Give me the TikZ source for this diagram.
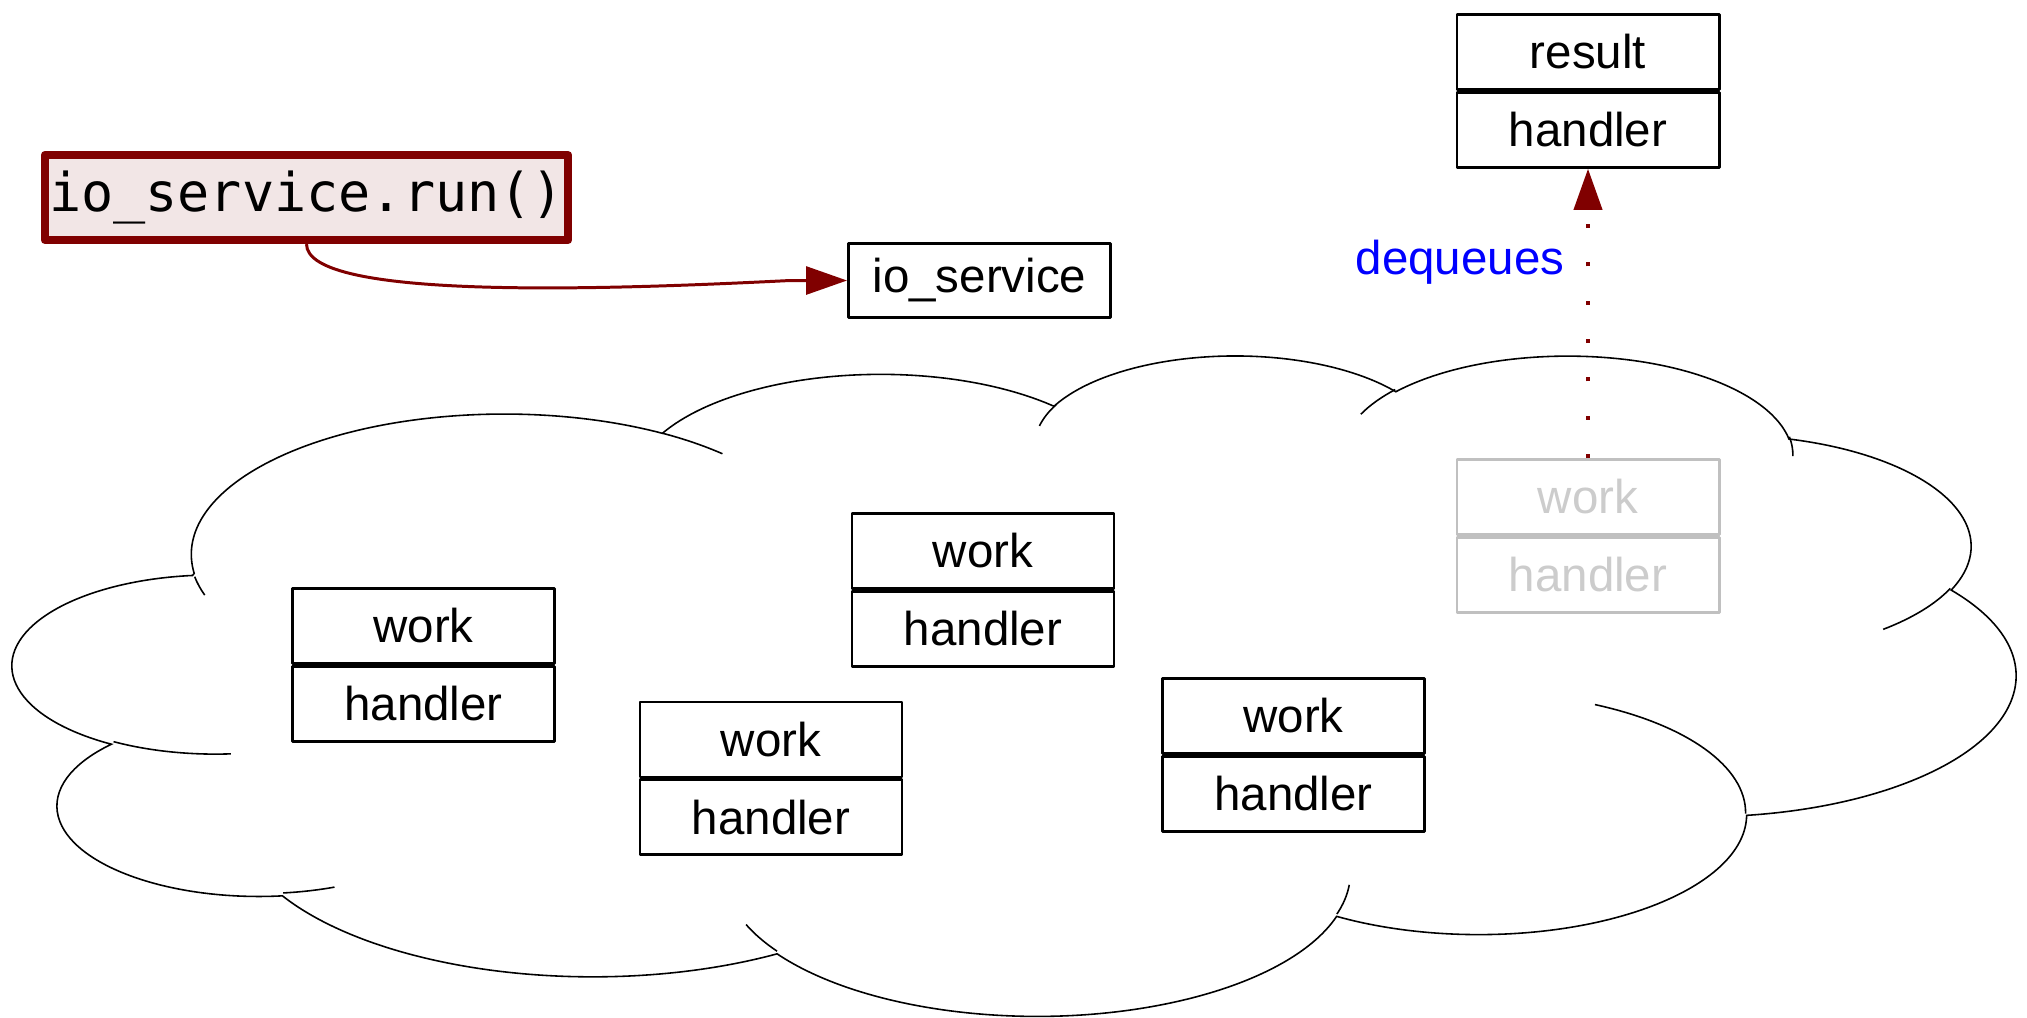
\documentclass[tikz,border=0pt]{standalone}
\usepackage{fontspec}
\setmainfont{Liberation Sans}
\setmonofont{DejaVu Sans Mono}
\usetikzlibrary{arrows.meta}
\definecolor{darkred}{RGB}{128,0,0}
\definecolor{runfill}{RGB}{242,230,230}
\definecolor{boxgray}{RGB}{192,192,192}
\definecolor{textgray}{RGB}{204,204,204}
\definecolor{qblue}{RGB}{0,0,255}
\tikzset{
  oarc/.style n args={4}{insert path={
    arc[start angle={atan2((#1)*sin(#3),(#2)*cos(#3))},
        delta angle={mod(atan2((#1)*sin((#3)+(#4)),(#2)*cos((#3)+(#4)))-atan2((#1)*sin(#3),(#2)*cos(#3))+720,360)},
        x radius=#1, y radius=#2]}},
  cloudline/.style={draw=black, line width=0.45pt},
  cell/.style={draw=black, line width=0.8pt, fill=white, minimum width=2.62cm,
    minimum height=0.75cm, inner sep=0pt, line join=round,
    font=\fontsize{13.5}{16}\selectfont},
  graycell/.style={cell, draw=boxgray, text=textgray},
  runbox/.style={draw=darkred, fill=runfill, line width=2.3pt, line join=round,
    minimum width=5.23cm, minimum height=0.85cm, inner sep=0pt,
    font=\fontsize{15.2}{17}\selectfont\ttfamily},
  tip/.style={-{Triangle[length=4.1mm,width=2.8mm]}},
}
\begin{document}
\begin{tikzpicture}[x=0.01cm, y=-0.01cm]
\useasboundingbox (0,0) rectangle (2027,1017);
% cloud
\begin{scope}[shift={(13.48,353.8)}, x=0.4631cm, y=-0.15272cm]
\draw[cloudline, fill=white] (3.9,14.37)
  [oarc={6.753}{9.190}{-190.4875}{123.7805}]
  [oarc={5.333}{7.267}{-144.1024}{89.9452}]
  [oarc={4.365}{5.945}{-145.8079}{99.7230}]
  [oarc={4.857}{6.595}{-130.9861}{117.2417}]
  [oarc={5.333}{7.273}{-78.7089}{109.0269}]
  [oarc={6.775}{9.220}{-46.2673}{130.2690}]
  [oarc={5.785}{7.867}{0.6250}{114.0333}]
  [oarc={6.752}{9.215}{22.4516}{115.1726}]
  [oarc={7.720}{10.543}{66.2426}{75.7110}]
  [oarc={4.360}{5.918}{-274.9421}{146.7356}]
  [oarc={4.345}{5.945}{-246.8285}{152.5189}]
  -- cycle;
\draw[cloudline]
  (4.693,26.177) [oarc={4.345}{5.945}{86.7420}{26.4295}]
  (6.928,34.899) [oarc={4.360}{5.918}{73.6105}{11.4475}]
  (16.478,39.090) [oarc={6.752}{9.215}{137.6242}{14.0811}]
  (28.827,34.751) [oarc={6.752}{9.215}{6.4533}{15.9984}]
  (34.129,22.954) [oarc={5.785}{7.867}{-70.2924}{70.9174}]
  (41.798,15.354) [oarc={5.333}{7.273}{30.3180}{27.7515}]
  (38.324,5.426) [oarc={4.857}{6.595}{-13.7443}{14.8589}]
  (29.078,3.952) [oarc={4.857}{6.595}{-149.1815}{18.1954}]
  (22.141,4.720) [oarc={4.365}{5.945}{-163.4943}{17.6864}]
  (14.000,5.192) [oarc={6.753}{9.190}{-66.7070}{12.3194}]
  (4.127,15.789) [oarc={6.753}{9.190}{156.6226}{10.0245}];
\end{scope}
% boxes
\node[runbox] (run) at (306.5,197.5) {io\_service.run()};
\node[cell, minimum height=0.74cm] (io) at (979.5,280.5) {io\_service};
\node[cell] (rw) at (1588,52) {result};
\node[cell, anchor=north] (rh) at (rw.south) {handler};
\node[graycell] (gw) at (1588,497) {work};
\node[graycell, anchor=north] (gh) at (gw.south) {handler};
\node[cell] (wa) at (423.5,626) {work};
\node[cell, anchor=north] (ha) at (wa.south) {handler};
\node[cell] (wb) at (983,551) {work};
\node[cell, anchor=north] (hb) at (wb.south) {handler};
\node[cell] (wc) at (771,739.5) {work};
\node[cell, anchor=north] (hc) at (wc.south) {handler};
\node[cell] (wd) at (1293.5,716) {work};
\node[cell, anchor=north] (hd) at (wd.south) {handler};
\node[font=\fontsize{13.5}{16}\selectfont, text=qblue, inner sep=0pt] (deq) at (1460,262) {dequeues};
% connectors
\draw[darkred, line width=0.85pt, tip] (run.south) .. controls (306.5,300) and (600,290) .. (790,280.5) -- (io.west);
\draw[darkred, line width=1.14pt, dash pattern=on 1.14pt off 9.76pt, tip] (gw.north) -- (rh.south);
\end{tikzpicture}
\end{document}
